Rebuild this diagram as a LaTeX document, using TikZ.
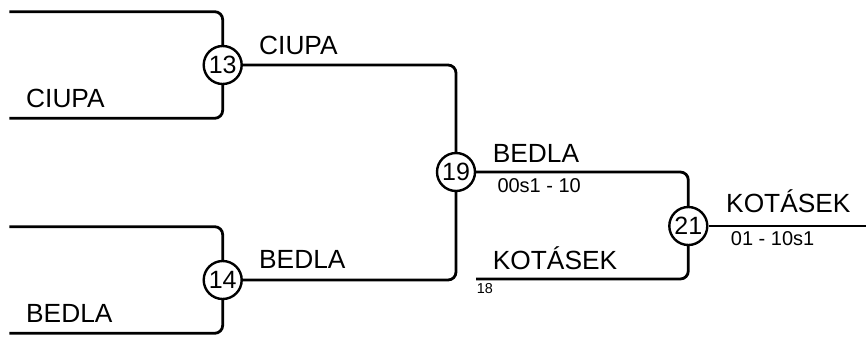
\documentclass[tikz,border=0pt]{standalone}
\usepackage{fontspec}
\setmainfont{Liberation Sans}
\begin{document}
\begin{tikzpicture}[x=1pt,y=-1pt]

\tikzstyle{jogo}=[circle,draw,line width=2.4pt,minimum size=38pt,inner sep=0,font=\fontsize{25}{25}\selectfont]
\tikzstyle{linha}=[line width=2.8pt,rounded corners=8pt]
\tikzstyle{time}=[anchor=base west,inner sep=0,font=\fontsize{26.3}{26}\selectfont]
\tikzstyle{placar}=[anchor=base west,inner sep=0,font=\fontsize{20}{20}\selectfont]
\tikzstyle{miudo}=[anchor=base west,inner sep=0,font=\fontsize{14.4}{14}\selectfont]

\useasboundingbox (0,0) rectangle (866,338);

% jogos
\node[jogo] (j13) at (222.7,65) {13};
\node[jogo] (j14) at (222.7,280) {14};
\node[jogo] (j19) at (456,172) {19};
\node[jogo] (j21) at (688.3,226) {21};

% pontas soltas
\coordinate (a13) at (9.3,11.7);
\coordinate (b13) at (9.3,118.3);
\coordinate (a14) at (9.3,226.7);
\coordinate (b14) at (9.3,333.3);
\coordinate (k18) at (476,279);
\coordinate (fim) at (866,226);

\draw[linha] (a13) -| (j13);
\draw[linha] (b13) -| (j13);
\draw[linha] (a14) -| (j14);
\draw[linha] (b14) -| (j14);
\draw[linha] (j13) -| (j19);
\draw[linha] (j14) -| (j19);
\draw[linha] (j19) -| (j21);
\draw[linha] (k18) -| (j21);
\draw[linha] (j21) -- (fim);

% nomes
\node[time] (n13b) at (26,107.3) {CIUPA};
\node[time] (n14b) at (26,322.7) {BEDLA};
\node[time] (v13) at (259,54.3) {CIUPA};
\node[time] (v14) at (259,268.3) {BEDLA};
\node[time] (v19) at (492.7,162.3) {BEDLA};
\node[time] (k18n) at (492.7,269.3) {KOTÁSEK};
\node[time] (v21) at (726,212.7) {KOTÁSEK};

% placares
\node[placar] (p19) at (497.3,192.7) {00s1 - 10};
\node[placar] (p21) at (730.7,245) {01 - 10s1};
\node[miudo] (r18) at (476.7,293.3) {18};

\end{tikzpicture}
\end{document}
